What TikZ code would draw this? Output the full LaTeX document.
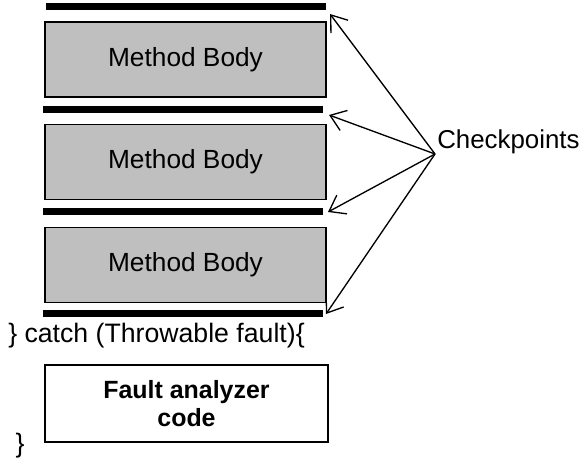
\documentclass[tikz,border=0pt]{standalone}
\usepackage{fontspec}
\setmainfont{Liberation Sans}
\usetikzlibrary{arrows.meta}

\tikzset{
  body/.style={draw, fill=black!25, line width=1.1pt, inner sep=0pt,
    minimum width=210.75pt, minimum height=56pt,
    font=\fontsize{19.7}{23}\selectfont},
  bar/.style={fill=black, inner sep=0pt, minimum width=210pt, minimum height=5.25pt},
  handler/.style={draw, line width=1.5pt, inner sep=0pt, align=center,
    minimum width=212pt, minimum height=57.5pt,
    font=\fontsize{18.7}{21}\selectfont\bfseries},
  plain/.style={inner sep=0pt, font=\fontsize{20}{23}\selectfont},
  ptr/.style={-{Straight Barb[length=11pt,width=16pt]}, line width=1pt}
}

\begin{document}
\begin{tikzpicture}[x=0.75pt,y=-0.75pt]
\useasboundingbox (0,0) rectangle (585,461);

% method bodies between checkpoints
\node[bar] (bar1) at (185.5,6.5) {};
\node[body] (body1) at (185.5,59.5) {Method Body};
\node[bar] (bar2) at (183,109) {};
\node[body] (body2) at (185.5,162) {Method Body};
\node[bar] (bar3) at (183,211) {};
\node[body] (body3) at (185.5,265) {Method Body};
\node[bar] (bar4) at (183,313.5) {};

% handler
\node[plain, anchor=west] (catch) at (8,336) {\} catch (Throwable fault)\{};
\node[handler] (analyzer) at (186.5,403.5) {Fault analyzer\\code};
\node[plain] (close) at (20,446) {\}};

% checkpoint label
\node[plain, anchor=base west, font=\fontsize{19.4}{23}\selectfont] (chk) at (437,148) {Checkpoints};
\coordinate (hub) at (435,154);

\coordinate (tip1) at (330,14);
\coordinate (tip2) at (329,115);
\coordinate (tip3) at (328,212);
\coordinate (tip4) at (326,314);

\draw[ptr] (hub) -- (tip1);
\draw[ptr] (hub) -- (tip2);
\draw[ptr] (hub) -- (tip3);
\draw[ptr] (hub) -- (tip4);
\end{tikzpicture}
\end{document}
